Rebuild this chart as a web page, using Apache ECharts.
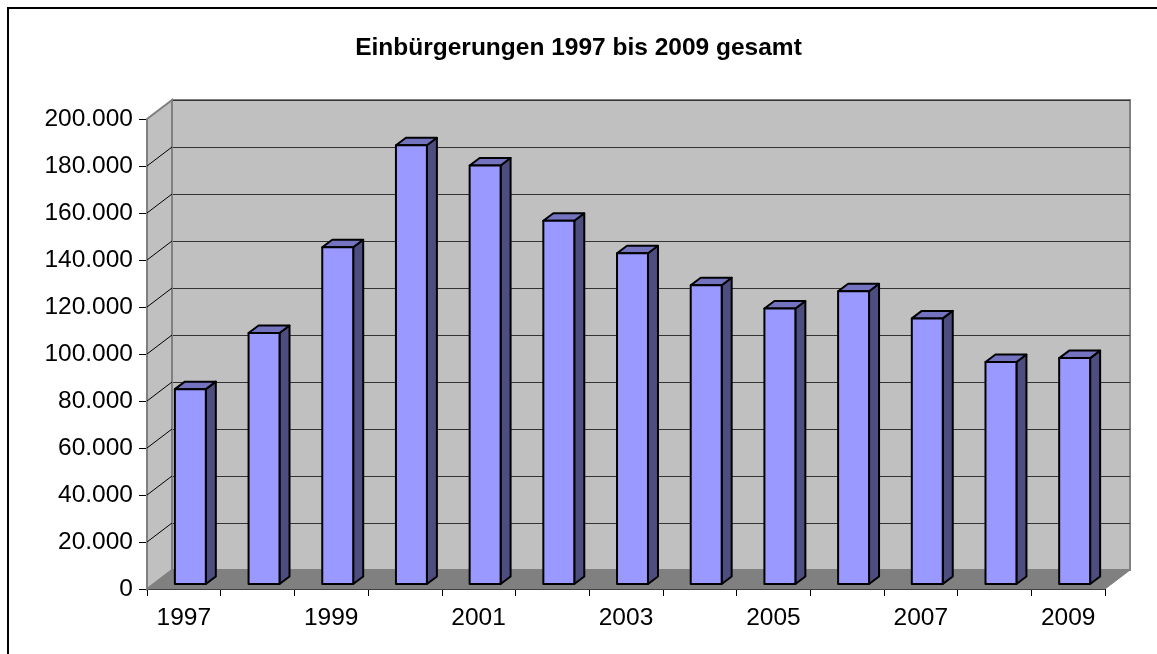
<!DOCTYPE html>
<html>
<head>
<meta charset="utf-8">
<script src="https://cdn.jsdelivr.net/npm/echarts@6/dist/echarts.min.js"></script>
<style>
html,body{margin:0;padding:0;background:#fff;}
#chartMain{width:1157px;height:654px;}
</style>
</head>
<body>
<div id="chartMain"></div>
<script>
// Daten
var years = ['1997','1998','1999','2000','2001','2002','2003','2004','2005','2006','2007','2008','2009'];
var einbuergerungen = [82913, 106790, 143267, 186688, 178098, 154547, 140731, 127153, 117241, 124566, 113030, 94470, 96122];
var yTicks = [0, 20000, 40000, 60000, 80000, 100000, 120000, 140000, 160000, 180000, 200000];

// 3D Versatz (Tiefe der Rückwand, Lage der Säulen)
var DX = 25, DY = -19;
var BAR_OX = 6.5, BAR_OY = -5;
var BAR_DX = 10, BAR_DY = -7.5;

function fmt(v){
    return String(v).replace(/\B(?=(\d{3})+(?!\d))/g, '.');
}

var myChart = echarts.init(document.getElementById('chartMain'));

var option = {
    backgroundColor: '#fff',
    animation: false,
    title: {
        text: 'Einbürgerungen 1997 bis 2009 gesamt',
        left: 'center',
        top: 31,
        textStyle: {
            fontFamily: 'Liberation Sans',
            fontSize: 24.5,
            fontWeight: 'bold',
            color: '#000'
        }
    },
    graphic: [{
        type: 'rect',
        shape: {x: 8, y: 8, width: 1200, height: 700},
        style: {fill: 'none', stroke: '#000', lineWidth: 2},
        z: -10
    }],
    grid: [
        // Vorderkante
        {left: 147, top: 119, width: 958, height: 470},
        // Rückwand
        {left: 147 + DX, top: 119 + DY, width: 958, height: 470,
         show: true, backgroundColor: '#c0c0c0', borderColor: '#808080', borderWidth: 2}
    ],
    xAxis: [{
        type: 'category',
        gridIndex: 0,
        data: years,
        axisLine: {lineStyle: {color: '#000', width: 1}},
        axisTick: {show: true, interval: 0, length: 7, lineStyle: {color: '#000'}},
        axisLabel: {
            interval: 1,
            margin: 17,
            color: '#000',
            fontFamily: 'Liberation Sans',
            fontSize: 24.5
        },
        splitLine: {show: false}
    }, {
        type: 'category',
        gridIndex: 1,
        data: years,
        axisLine: {show: false},
        axisTick: {show: false},
        axisLabel: {show: false},
        splitLine: {show: false}
    }],
    yAxis: [{
        type: 'value',
        gridIndex: 0,
        min: 0,
        max: 200000,
        interval: 20000,
        axisLine: {show: true, lineStyle: {color: '#000', width: 1}},
        axisTick: {show: true, length: 8, lineStyle: {color: '#000'}},
        axisLabel: {
            margin: 14,
            color: '#000',
            fontFamily: 'Liberation Sans',
            fontSize: 24.5,
            formatter: fmt
        },
        splitLine: {show: false}
    }, {
        type: 'value',
        gridIndex: 1,
        min: 0,
        max: 200000,
        interval: 20000,
        axisLine: {show: false},
        axisTick: {show: false},
        axisLabel: {show: false},
        splitLine: {show: true, lineStyle: {color: '#333', width: 1}}
    }],
    series: [{
        // Seitenwand + Boden
        type: 'custom',
        xAxisIndex: 0,
        yAxisIndex: 0,
        silent: true,
        z: 1,
        data: [[0, 0]],
        renderItem: function(params, api){
            var cs = params.coordSys;
            var x = cs.x, y = cs.y, w = cs.width, h = cs.height;
            var children = [];
            children.push({
                type: 'polygon',
                shape: {points: [[x, y + h], [x, y], [x + DX, y + DY], [x + DX, y + h + DY]]},
                style: {fill: '#c0c0c0', stroke: '#808080', lineWidth: 2}
            });
            children.push({
                type: 'polygon',
                shape: {points: [[x, y + h], [x + w, y + h], [x + w + DX, y + h + DY], [x + DX, y + h + DY]]},
                style: {fill: '#808080', stroke: '#808080', lineWidth: 1}
            });
            for (var i = 1; i < yTicks.length - 1; i++) {
                var ty = api.coord([0, yTicks[i]])[1];
                children.push({
                    type: 'line',
                    shape: {x1: x, y1: ty, x2: x + DX, y2: ty + DY},
                    style: {stroke: '#000', lineWidth: 1}
                });
            }
            return {type: 'group', children: children};
        }
    }, {
        // Säulen
        type: 'custom',
        name: 'Einbürgerungen',
        xAxisIndex: 0,
        yAxisIndex: 0,
        z: 3,
        data: einbuergerungen.map(function(v, i){ return [i, v]; }),
        renderItem: function(params, api){
            var top = api.coord([api.value(0), api.value(1)]);
            var base = api.coord([api.value(0), 0]);
            var bw = api.size([1, 0])[0] * 0.42;
            var l = top[0] - bw / 2 + BAR_OX;
            var r = l + bw;
            var t = top[1] + BAR_OY;
            var b = base[1] + BAR_OY;
            var line = {stroke: '#000', lineWidth: 2, lineJoin: 'round'};
            return {
                type: 'group',
                children: [{
                    type: 'polygon',
                    shape: {points: [[r, t], [r + BAR_DX, t + BAR_DY], [r + BAR_DX, b + BAR_DY], [r, b]]},
                    style: Object.assign({fill: '#4d4d80'}, line)
                }, {
                    type: 'polygon',
                    shape: {points: [[l, t], [r, t], [r + BAR_DX, t + BAR_DY], [l + BAR_DX, t + BAR_DY]]},
                    style: Object.assign({fill: '#7373bf'}, line)
                }, {
                    type: 'rect',
                    shape: {x: l, y: t, width: bw, height: b - t},
                    style: Object.assign({fill: '#9999ff'}, line)
                }]
            };
        }
    }]
};

myChart.setOption(option);
</script>
</body>
</html>
